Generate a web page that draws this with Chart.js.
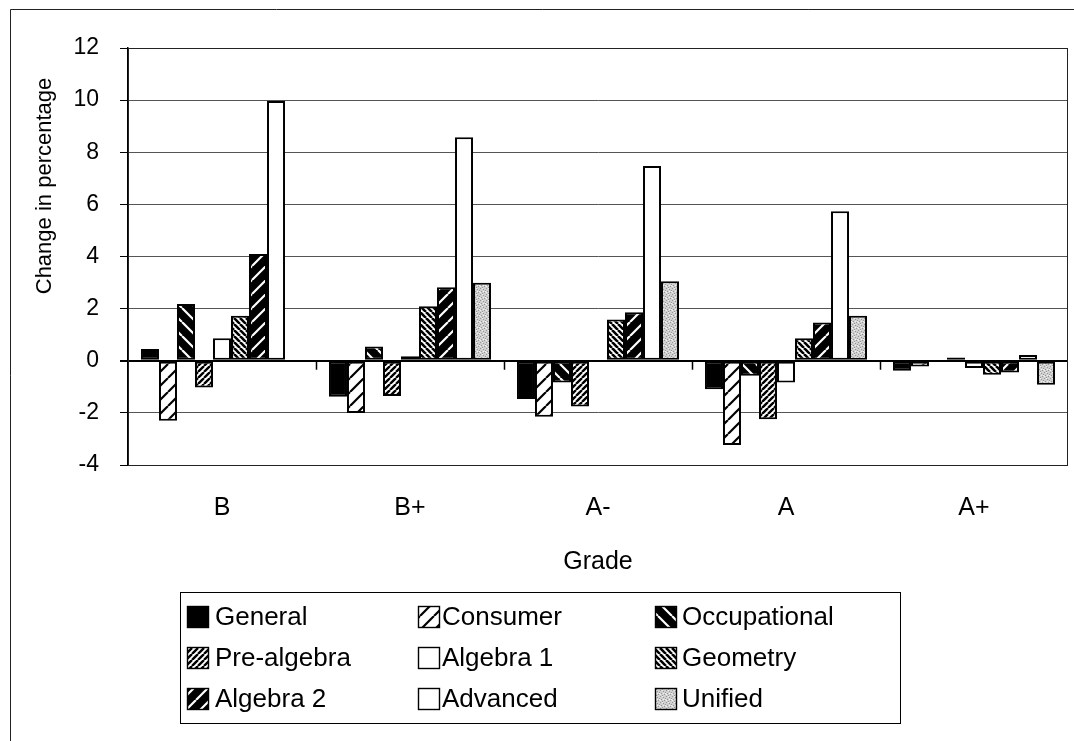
<!DOCTYPE html>
<html>
<head>
<meta charset="utf-8">
<script src="https://cdn.jsdelivr.net/npm/chart.js"></script>
<style>
  html, body { margin: 0; padding: 0; background: #fff; }
  #wrap { width: 1074px; height: 741px; }
</style>
</head>
<body>
<div id="wrap"><canvas id="gradeChart" width="1074" height="741"></canvas></div>
<script>
const grades = ['B', 'B+', 'A-', 'A', 'A+'];
const general      = [0.45, -1.38, -1.47, -1.09, -0.38];
const consumer     = [-2.3, -2.0, -2.15, -3.23, -0.22];
const occupational = [2.18, 0.55, -0.83, -0.58, 0];
const preAlgebra   = [-1.03, -1.35, -1.76, -2.24, 0.12];
const algebra1     = [0.86, 0.17, 0, -0.83, -0.28];
const geometry     = [1.73, 2.09, 1.58, 0.86, -0.54];
const algebra2     = [4.1, 2.82, 1.86, 1.47, -0.45];
const advanced     = [9.97, 8.58, 7.47, 5.74, 0.22];
const unified      = [0, 2.99, 3.05, 1.73, -0.92];

const FONT = '"Liberation Sans", Arial, Helvetica, sans-serif';

// diagonal hatch tile, dir 1 = "/", dir -1 = "\"
function hatch(bg, fg, size, width, dir) {
  const c = document.createElement('canvas');
  c.width = size; c.height = size;
  const g = c.getContext('2d');
  g.fillStyle = bg;
  g.fillRect(0, 0, size, size);
  g.strokeStyle = fg;
  g.lineWidth = width;
  g.beginPath();
  for (let k = -1; k <= 1; k++) {
    if (dir > 0) { g.moveTo(k * size, size); g.lineTo(k * size + size, 0); }
    else { g.moveTo(k * size, 0); g.lineTo(k * size + size, size); }
  }
  g.stroke();
  return g.createPattern(c, 'repeat');
}

function stipple() {
  const c = document.createElement('canvas');
  c.width = 6; c.height = 6;
  const g = c.getContext('2d');
  g.fillStyle = '#d0d0d0';
  g.fillRect(0, 0, 6, 6);
  g.fillStyle = '#959595';
  [[0,0],[3,1],[1,3],[4,4],[2,5],[5,2]].forEach(p => g.fillRect(p[0], p[1], 1, 1));
  g.fillStyle = '#f2f2f2';
  [[2,0],[5,3],[0,4],[3,3]].forEach(p => g.fillRect(p[0], p[1], 1, 1));
  return g.createPattern(c, 'repeat');
}

const series = [
  { label: 'General',      data: general,      fill: '#000' },
  { label: 'Consumer',     data: consumer,     fill: hatch('#fff', '#000', 14, 2.2, 1) },
  { label: 'Occupational', data: occupational, fill: hatch('#000', '#fff', 14, 2.2, -1) },
  { label: 'Pre-algebra',  data: preAlgebra,   fill: hatch('#fff', '#000', 6, 2.4, 1) },
  { label: 'Algebra 1',    data: algebra1,     fill: '#fff' },
  { label: 'Geometry',     data: geometry,     fill: hatch('#fff', '#000', 6, 2.6, -1) },
  { label: 'Algebra 2',    data: algebra2,     fill: hatch('#000', '#fff', 14, 2.2, 1) },
  { label: 'Advanced',     data: advanced,     fill: '#fff' },
  { label: 'Unified',      data: unified,      fill: stipple() }
];

// frame, plot border, y title, zero-line tick marks and the boxed 3-column legend
const extras = {
  id: 'extras',
  afterDraw(chart) {
    const ctx = chart.ctx;
    const a = chart.chartArea;
    const y = chart.scales.y;
    ctx.save();
    ctx.strokeStyle = '#222';
    ctx.lineWidth = 1;
    ctx.beginPath();
    ctx.moveTo(10.5, 741); ctx.lineTo(10.5, 9.5); ctx.lineTo(1074, 9.5);
    ctx.stroke();
    ctx.strokeRect(a.left + 0.5, a.top + 0.5, a.right - a.left - 1, a.bottom - a.top);

    const zy = y.getPixelForValue(0);
    const step = (a.right - a.left) / grades.length;
    ctx.strokeStyle = '#000';
    ctx.lineWidth = 1.5;
    ctx.beginPath();
    for (let i = 1; i < grades.length; i++) {
      const px = Math.round(a.left + step * i) + 0.5;
      ctx.moveTo(px, zy); ctx.lineTo(px, zy + 9);
    }
    ctx.stroke();

    // y axis title
    ctx.save();
    ctx.translate(45, 186);
    ctx.rotate(-Math.PI / 2);
    ctx.font = '22px ' + FONT;
    ctx.fillStyle = '#000';
    ctx.textAlign = 'center';
    ctx.textBaseline = 'middle';
    ctx.fillText('Change in percentage', 0, 0);
    ctx.restore();

    // legend
    ctx.fillStyle = '#fff';
    ctx.fillRect(180, 592, 720, 131);
    ctx.strokeStyle = '#000';
    ctx.lineWidth = 1;
    ctx.strokeRect(180.5, 592.5, 720, 131);
    const swatchX = [187, 418, 655];
    const textX = [215, 442, 682];
    const rows = [617, 658, 699];
    ctx.font = '26px ' + FONT;
    ctx.textBaseline = 'middle';
    chart.data.datasets.forEach((ds, i) => {
      const col = i % 3, cy = rows[Math.floor(i / 3)];
      const cx = swatchX[col];
      ctx.fillStyle = ds.backgroundColor;
      ctx.fillRect(cx, cy - 11, 22, 22);
      ctx.strokeStyle = '#000';
      ctx.lineWidth = 1.4;
      ctx.strokeRect(cx + 0.5, cy - 10.5, 21, 21);
      ctx.fillStyle = '#000';
      ctx.fillText(ds.label, textX[col], cy + 1);
    });
    ctx.restore();
  }
};

new Chart(document.getElementById('gradeChart'), {
  type: 'bar',
  data: {
    labels: grades,
    datasets: series.map(s => ({
      label: s.label,
      data: s.data,
      backgroundColor: s.fill,
      borderColor: '#000',
      borderWidth: 2,
      borderSkipped: false,
      categoryPercentage: 0.862,
      barPercentage: 1
    }))
  },
  options: {
    responsive: false,
    animation: false,
    layout: { padding: { left: 32, top: 48, right: 6, bottom: 161 } },
    plugins: {
      legend: { display: false },
      tooltip: { enabled: false }
    },
    scales: {
      x: {
        grid: { display: false, drawTicks: false },
        border: { display: false },
        ticks: { color: '#000', font: { family: FONT, size: 25 }, padding: 28 },
        title: {
          display: true, text: 'Grade', color: '#000',
          font: { family: FONT, size: 25 }, padding: { top: 0, bottom: 3 }
        },
        afterFit(scale) { scale.height = 115; }
      },
      y: {
        min: -4, max: 12,
        ticks: { stepSize: 2, color: '#000', font: { family: FONT, size: 23 }, padding: 21 },
        grid: {
          color: c => c.tick && c.tick.value === 0 ? '#000' : '#555',
          lineWidth: c => c.tick && c.tick.value === 0 ? 2 : 1,
          tickLength: 8,
          tickColor: '#000'
        },
        border: { display: true, color: '#000', width: 1.5 },
        title: { display: false },
        afterFit(scale) { scale.width = 96; }
      }
    }
  },
  plugins: [extras]
});
</script>
</body>
</html>
